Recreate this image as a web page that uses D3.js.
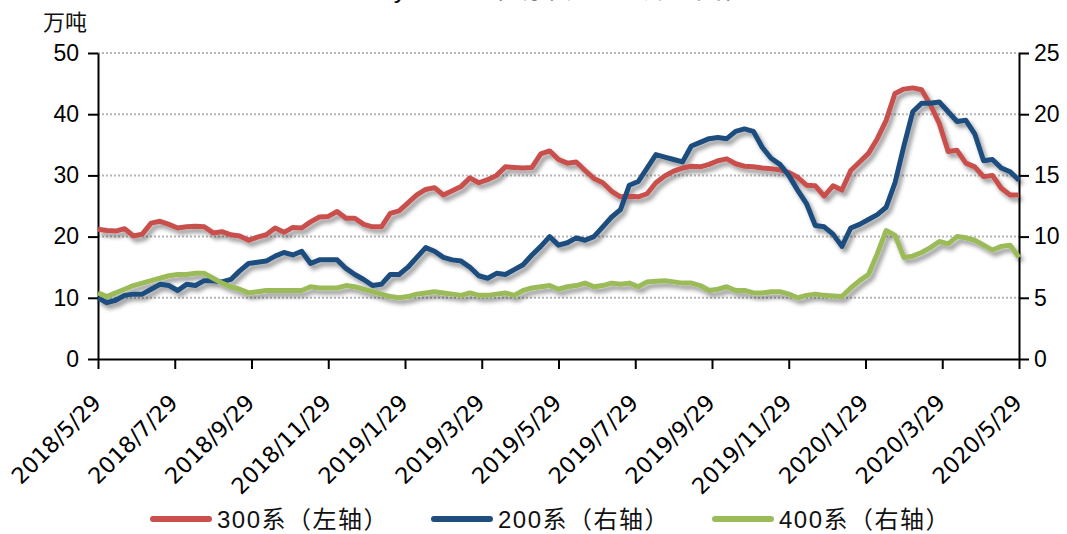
<!DOCTYPE html>
<html>
<head>
<meta charset="utf-8">
<script src="https://cdn.jsdelivr.net/npm/d3@7"></script>
<style>
  body { margin: 0; background: #fff; }
  svg { display: block; }
</style>
</head>
<body>
<div id="vis"><svg></svg></div>
<script>
// weekly values, 2018/5/29 .. 2020/5/29
const s300 = [21.2, 21.0, 20.9, 21.3, 20.1, 20.4, 22.2, 22.5, 22.0, 21.4,
  21.6, 21.7, 21.6, 20.6, 20.8, 20.3, 20.1, 19.4, 19.9, 20.3,
  21.4, 20.7, 21.5, 21.4, 22.4, 23.2, 23.3, 24.1, 23.0, 23.0,
  22.0, 21.6, 21.6, 23.8, 24.2, 25.5, 26.8, 27.7, 28.0, 26.8,
  27.5, 28.2, 29.6, 28.8, 29.3, 30.0, 31.4, 31.3, 31.2, 31.3,
  33.5, 34.0, 32.6, 32.0, 32.2, 30.8, 29.5, 28.8, 27.4, 26.5,
  26.6, 26.5, 27.0, 28.8, 29.9, 30.7, 31.2, 31.5, 31.4, 31.8,
  32.4, 32.7, 31.9, 31.5, 31.4, 31.2, 31.1, 30.9, 30.5, 29.7,
  28.4, 28.3, 26.6, 28.3, 27.6, 30.8, 32.2, 33.6, 36.0, 39.0,
  43.4, 44.1, 44.3, 44.0, 41.5, 38.5, 33.9, 34.1, 32.0, 31.4,
  29.8, 30.0, 27.9, 26.8, 26.8];

const s200 = [5.0, 4.6, 4.8, 5.2, 5.3, 5.3, 5.7, 6.1, 6.0, 5.6,
  6.1, 6.0, 6.4, 6.4, 6.3, 6.5, 7.2, 7.8, 7.9, 8.0,
  8.4, 8.7, 8.5, 8.8, 7.8, 8.1, 8.1, 8.1, 7.4, 6.9,
  6.5, 6.0, 6.1, 6.9, 6.9, 7.5, 8.3, 9.1, 8.8, 8.3,
  8.1, 8.0, 7.5, 6.8, 6.6, 7.0, 6.9, 7.3, 7.7, 8.5,
  9.2, 10.0, 9.3, 9.5, 9.9, 9.7, 10.0, 10.8, 11.6, 12.2,
  14.2, 14.5, 15.6, 16.7, 16.5, 16.3, 16.1, 17.4, 17.7, 18.0,
  18.1, 18.0, 18.6, 18.8, 18.6, 17.3, 16.4, 15.9, 15.0, 13.8,
  12.7, 10.9, 10.8, 10.2, 9.2, 10.7, 11.0, 11.4, 11.8, 12.4,
  14.4, 17.4, 20.2, 20.9, 20.9, 21.0, 20.2, 19.4, 19.5, 18.4,
  16.2, 16.3, 15.6, 15.3, 14.6];

const s400 = [5.4, 5.1, 5.4, 5.7, 6.0, 6.2, 6.4, 6.6, 6.8, 6.9,
  6.9, 7.0, 7.0, 6.6, 6.2, 5.9, 5.7, 5.4, 5.5, 5.6,
  5.6, 5.6, 5.6, 5.6, 5.9, 5.8, 5.8, 5.8, 6.0, 5.9,
  5.7, 5.5, 5.3, 5.1, 5.0, 5.1, 5.3, 5.4, 5.5, 5.4,
  5.3, 5.2, 5.4, 5.2, 5.2, 5.3, 5.4, 5.2, 5.6, 5.8,
  5.9, 6.0, 5.7, 5.9, 6.0, 6.2, 5.9, 6.0, 6.2, 6.1,
  6.2, 5.9, 6.3, 6.35, 6.4, 6.3, 6.2, 6.2, 6.0, 5.6,
  5.7, 5.9, 5.6, 5.6, 5.4, 5.4, 5.5, 5.5, 5.3, 5.0,
  5.2, 5.3, 5.2, 5.15, 5.1, 5.8, 6.4, 6.9, 8.6, 10.5,
  10.1, 8.3, 8.4, 8.7, 9.1, 9.6, 9.4, 10.0, 9.9, 9.7,
  9.3, 8.9, 9.2, 9.3, 8.3];

const xLabels = ["2018/5/29", "2018/7/29", "2018/9/29", "2018/11/29", "2019/1/29",
  "2019/3/29", "2019/5/29", "2019/7/29", "2019/9/29", "2019/11/29",
  "2020/1/29", "2020/3/29", "2020/5/29"];
const leftTicks = [0, 10, 20, 30, 40, 50];
const rightTicks = [0, 5, 10, 15, 20, 25];
const seriesNames = ["300系（左轴）", "200系（右轴）", "400系（右轴）"];
const seriesColors = ["#c9504d", "#1f4e7e", "#9bbb59"];

var width = 1067, height = 534;
var plot = {left: 98, right: 1019, top: 53, bottom: 359};
var numFont = "'Liberation Sans', Arial, sans-serif";
var cjkFont = "'Liberation Sans', Arial, 'Noto Sans CJK SC', sans-serif";

var svg = d3.select("#vis").select("svg")
  .attr("width", width)
  .attr("height", height);

// shadow under the lines
var defs = svg.append("defs");
var f = defs.append("filter").attr("id", "shadow")
  .attr("x", "-10%").attr("y", "-10%").attr("width", "120%").attr("height", "130%");
f.append("feDropShadow")
  .attr("dx", 3).attr("dy", 4).attr("stdDeviation", 2)
  .attr("flood-color", "#000").attr("flood-opacity", 0.4);

var nPts = s300.length;
let xScale = d3.scaleLinear().domain([0, nPts - 1]).range([plot.left, plot.right]);
let yLeft = d3.scaleLinear().domain([0, 50]).range([plot.bottom, plot.top]);
let yRight = d3.scaleLinear().domain([0, 25]).range([plot.bottom, plot.top]);

// title (cut off at top of the picture, like the reference)
svg.append("text")
  .attr("x", 560).attr("y", -2)
  .attr("text-anchor", "middle")
  .attr("font-family", cjkFont)
  .attr("font-size", 26)
  .attr("fill", "#111")
  .text("Mysteel：不锈钢分系列库存变化");

// unit
svg.append("text")
  .attr("x", 43).attr("y", 30)
  .attr("font-family", "'Noto Sans CJK SC', sans-serif")
  .attr("font-size", 22)
  .attr("fill", "#111")
  .text("万吨");

// grid lines
svg.append("g")
  .selectAll("line")
  .data(leftTicks.filter(d => d > 0))
  .join("line")
  .attr("x1", plot.left).attr("x2", plot.right)
  .attr("y1", d => yLeft(d)).attr("y2", d => yLeft(d))
  .attr("stroke", "#b5b5b5")
  .attr("stroke-width", 2)
  .attr("stroke-dasharray", "2,2");

// left axis
const leftAxisG = svg.append("g")
  .attr("transform", `translate(${plot.left},0)`)
  .call(d3.axisLeft(yLeft).tickValues(leftTicks).tickSize(10).tickSizeOuter(0).tickPadding(9));

// right axis
const rightAxisG = svg.append("g")
  .attr("transform", `translate(${plot.right},0)`)
  .call(d3.axisRight(yRight).tickValues(rightTicks).tickSize(10).tickSizeOuter(0).tickPadding(5));

[leftAxisG, rightAxisG].forEach(g => {
  g.select(".domain").attr("stroke", "#000").attr("stroke-width", 2);
  g.selectAll(".tick line").attr("stroke", "#000").attr("stroke-width", 2);
  g.selectAll(".tick text")
    .attr("font-family", numFont)
    .attr("font-size", 23)
    .attr("fill", "#000");
});

// bottom axis
var tickIdx = xLabels.map((d, i) => i * (nPts - 1) / (xLabels.length - 1));
const xAxisG = svg.append("g")
  .attr("transform", `translate(0,${plot.bottom})`)
  .call(d3.axisBottom(xScale).tickValues(tickIdx).tickSize(10).tickSizeOuter(0)
    .tickFormat((d, i) => xLabels[i]));
xAxisG.select(".domain").attr("stroke", "#000").attr("stroke-width", 2);
xAxisG.selectAll(".tick line").attr("stroke", "#000").attr("stroke-width", 2);
xAxisG.selectAll(".tick text")
  .attr("font-family", "'DejaVu Sans', sans-serif")
  .attr("font-size", 22.5)
  .attr("fill", "#000")
  .attr("text-anchor", "end")
  .attr("dy", 0)
  .attr("y", 0)
  .attr("transform", "translate(4,45) rotate(-45)");

// lines
const g = svg.append("g").attr("filter", "url(#shadow)");
const seriesData = [
  {vals: s300, y: yLeft},
  {vals: s200, y: yRight},
  {vals: s400, y: yRight}
];
seriesData.forEach((s, k) => {
  const line = d3.line()
    .x((d, i) => xScale(i))
    .y(d => s.y(d));
  g.append("path")
    .datum(s.vals)
    .attr("d", line)
    .attr("fill", "none")
    .attr("stroke", seriesColors[k])
    .attr("stroke-width", 5)
    .attr("stroke-linejoin", "round");
});

// legend
const legend = svg.append("g").attr("transform", "translate(153,519)");
const item = legend.selectAll("g")
  .data(seriesNames)
  .join("g")
  .attr("transform", (d, i) => `translate(${i * 281},0)`);
item.append("line")
  .attr("x1", 0).attr("x2", 56)
  .attr("stroke", (d, i) => seriesColors[i])
  .attr("stroke-width", 6)
  .attr("stroke-linecap", "round");
item.append("text")
  .attr("x", 64).attr("y", 0)
  .attr("dy", "0.36em")
  .attr("font-family", cjkFont)
  .attr("font-size", 24)
  .attr("letter-spacing", 1.5)
  .attr("fill", "#111")
  .text(d => d);
</script>
</body>
</html>
